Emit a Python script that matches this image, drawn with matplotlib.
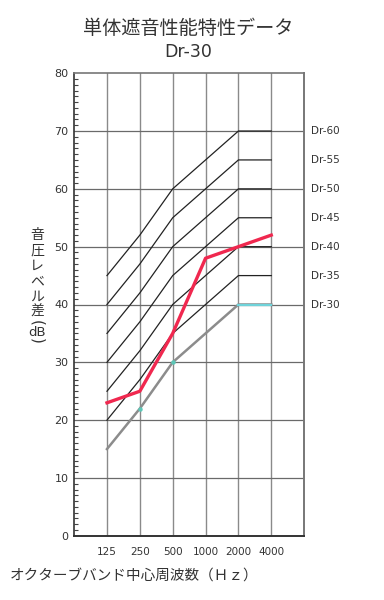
import matplotlib
matplotlib.use("Agg")
import matplotlib.pyplot as plt
from matplotlib.ticker import MultipleLocator

plt.rcParams['font.family'] = ['Noto Sans CJK JP', 'DejaVu Sans']

freqs = ["125", "250", "500", "1000", "2000", "4000"]
dr_base = [15, 22, 30, 35, 40, 40]          # Dr-30 curve
dr_levels = [30, 35, 40, 45, 50, 55, 60]
measured = [23, 25, 35, 48, 50, 52]
title1 = "単体遮音性能特性データ"
title2 = "Dr-30"
ylabel_chars = "音圧レベル差"
ylabel_unit = "dB"
xlabel = "オクターブバンド中心周波数（Ｈｚ）"

fig = plt.figure(figsize=(3.84, 6.0), dpi=100)
ax = fig.add_axes([0.193, 0.107, 0.599, 0.771])
x = list(range(1, len(freqs) + 1))

ax.set_xlim(0, 7)
ax.set_ylim(0, 80)

# grid
for xi in x:
    ax.axvline(xi, color='#8a8a8a', lw=1.0, zorder=1)
for yv in range(10, 80, 10):
    ax.axhline(yv, color='#6a6a6a', lw=0.9, zorder=1)

# Dr curves
for lev in dr_levels:
    vals = [v + (lev - 30) for v in dr_base]
    if lev == 30:
        ax.plot(x, vals, color='#8c8c8c', lw=1.8, zorder=3)
        ax.plot(x[4:6], vals[4:6], color='#6fd3da', lw=1.6, zorder=4)
        ax.plot(x[1:3], vals[1:3], 'o', color='#5cc8b8', ms=2.2, zorder=4)
    else:
        ax.plot(x, vals, color='#222222', lw=0.9, zorder=3)
    ax.text(7.2, vals[-1], f"Dr-{lev}", fontsize=7.5, color='#333333',
            va='center', ha='left', family='DejaVu Sans')

# measured
ax.plot(x, measured, color='#f0284f', lw=2.4, zorder=5)

ax.set_xticks(x)
ax.set_xticklabels(freqs, fontsize=7.5, color='#333333', family='DejaVu Sans')
ax.tick_params(axis='x', length=0, pad=8)
ax.yaxis.set_major_locator(MultipleLocator(10))
ax.yaxis.set_minor_locator(MultipleLocator(1))
ax.tick_params(axis='y', which='major', direction='in', length=0, labelsize=8,
               labelcolor='#333333', pad=4)
ax.tick_params(axis='y', which='minor', direction='in', length=3, width=0.8,
               color='#444444')
for lab in ax.get_yticklabels():
    lab.set_family('DejaVu Sans')

ax.spines['left'].set_color('#333333')
ax.spines['left'].set_linewidth(1.2)
ax.spines['bottom'].set_color('#333333')
ax.spines['bottom'].set_linewidth(1.4)
ax.spines['top'].set_color('#777777')
ax.spines['top'].set_linewidth(1.2)
ax.spines['right'].set_color('#777777')
ax.spines['right'].set_linewidth(1.4)

fig.text(0.49, 1 - 28 / 600, title1, ha='center', va='center', fontsize=13.8, color='#333333')
fig.text(0.49, 1 - 52 / 600, title2, ha='center', va='center', fontsize=12.5, color='#333333',
         family='DejaVu Sans')

# vertical y label (upright characters, vertical writing)
ys = [235, 251, 266, 281, 297, 312]
for ch, yy in zip(ylabel_chars, ys):
    fig.text(37 / 384, 1 - yy / 600, ch, ha='center', va='center',
             fontsize=10, color='#333333')
fig.text(37 / 384, 1 - 323 / 600, "(", ha='center', va='center', rotation=270,
         rotation_mode='anchor', fontsize=11, color='#333333', family='DejaVu Sans')
fig.text(37 / 384, 1 - 332 / 600, ylabel_unit, ha='center', va='center', fontsize=9.5,
         color='#333333', family='DejaVu Sans')
fig.text(37 / 384, 1 - 341 / 600, ")", ha='center', va='center', rotation=270,
         rotation_mode='anchor', fontsize=11, color='#333333', family='DejaVu Sans')

fig.text(10 / 384, 1 - 576 / 600, xlabel, ha='left', va='center', fontsize=10.5,
         color='#333333')

fig.savefig("out.png", dpi=100, facecolor='white')
